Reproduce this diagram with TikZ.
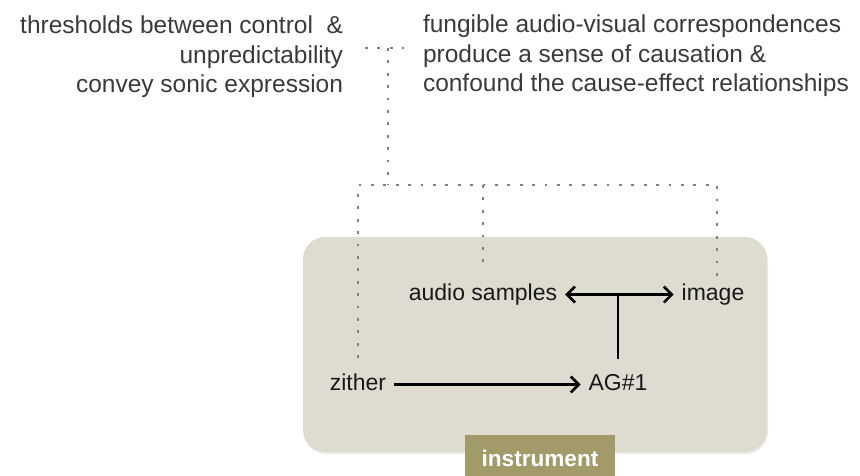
\documentclass[tikz,border=0pt]{standalone}
\usepackage{fontspec}
\setmainfont{Liberation Sans}
\usetikzlibrary{arrows.meta,shadows}

\definecolor{panelgray}{HTML}{DEDBD0}
\definecolor{tagolive}{HTML}{A39A6A}
\definecolor{notegray}{HTML}{3A3A3A}
\definecolor{dotgray}{HTML}{808080}

\begin{document}
\begin{tikzpicture}
[x=1pt,y=-1pt,%
  >={Straight Barb[length=8pt,width=16pt]},%
  every node/.style={inner sep=0pt,outer sep=0pt},%
  note/.style={text=notegray,font=\fontsize{24.5}{29.5}\selectfont},%
  lbl/.style={text=black!90,font=\fontsize{23}{27}\selectfont,text height=16pt,text depth=5pt,inner xsep=8pt,inner ysep=4pt},%
  link/.style={line width=2.6pt},%
  dotline/.style={dotgray,line width=2.8pt,dash pattern=on 2.8pt off 9.6pt}]
\useasboundingbox (0,0) rectangle (860,475);
\node[note,align=right,anchor=north east] (thresh) at (343,16)
  {thresholds between control \ \&\\unpredictability\\convey sonic expression};
\node[note,align=left,anchor=north west] (fung) at (423,15)
  {fungible audio-visual correspondences\\produce a sense of causation \&\\confound the cause-effect relationships};
\node[fill=panelgray,rounded corners=22pt,minimum width=464pt,minimum height=215pt,
  drop shadow={shadow xshift=1pt,shadow yshift=-2pt,opacity=0.15}] (panel) at (535,344.5) {};
\node[fill=tagolive,text=white,font=\bfseries\fontsize{22.6}{26}\selectfont,
  minimum width=150pt,minimum height=46pt] (tag) at (540,458) {instrument};
\node[lbl] (audio) at (483,294.5) {audio samples};
\node[lbl] (image) at (713,294.5) {image};
\node[lbl] (zither) at (358,384.5) {zither};
\node[lbl] (ag) at (618,384.5) {AG\#1};
\draw[link,->] (zither) -- (ag);
\draw[link,<->] (audio) -- (image);
\draw[link,shorten <=11pt] (ag.north) -- (ag.north |- image);
\coordinate (busL) at (358,185);
\coordinate (busR) at (717,185);
\coordinate (teeT) at (388,48);
\coordinate (teeL) at (365,48);
\coordinate (teeR) at (404,48);
\draw[dotline,shorten <=12pt] (zither.north) |- (busR) -- (busR |- image.north);
\draw[dotline,shorten >=12pt] (audio.north |- busL) -- (audio.north);
\draw[dotline] (teeT) -- (teeT |- busL);
\draw[dotline] (teeL) -- (teeR);
\end{tikzpicture}
\end{document}
